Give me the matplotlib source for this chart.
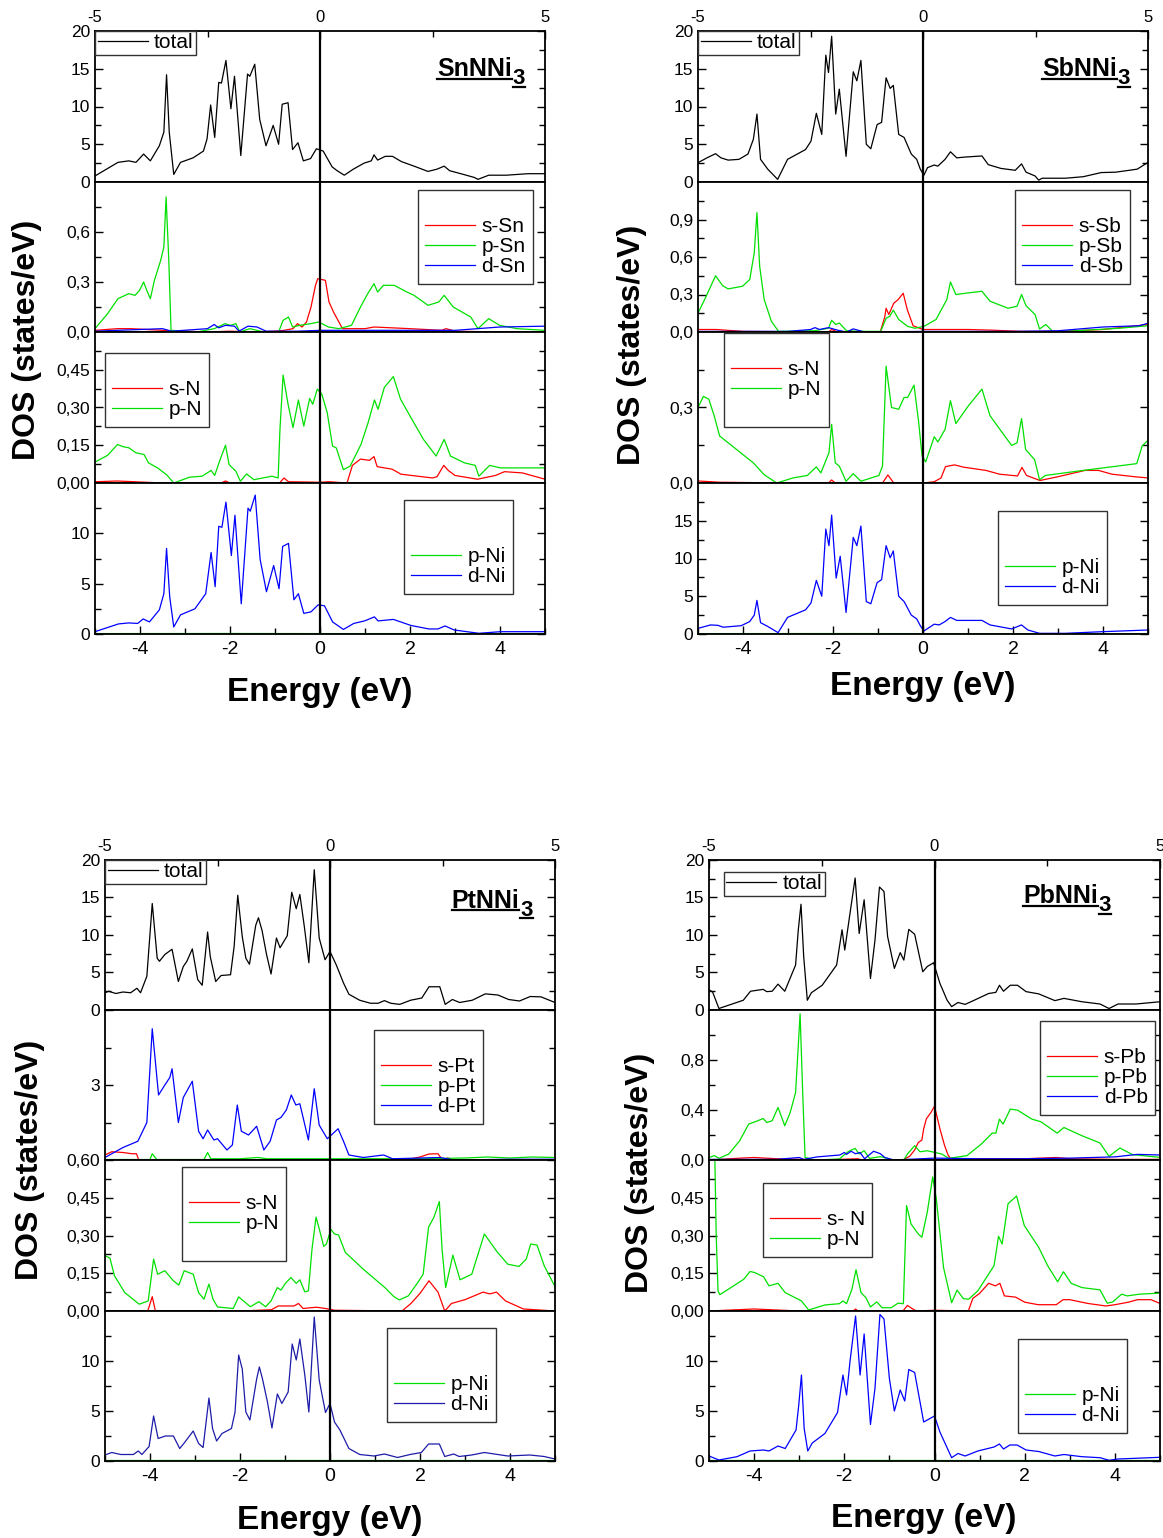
import numpy as np
import matplotlib
matplotlib.use('Agg')
import matplotlib.pyplot as plt
from matplotlib.lines import Line2D

plt.rcParams['font.family'] = ['Liberation Sans', 'DejaVu Sans']
plt.rcParams['axes.unicode_minus'] = False

RED, GREEN, BLUE, NAVY = '#ff0000', '#00e000', '#0000ff', '#1c1ca8'

# %% data: (energy eV, DOS) pairs

# ---- SnNNi3 ----
sn_total = np.array([[-5.0, 0.8], [-4.49, 2.6], [-4.25, 2.8], [-4.09, 2.6], [-3.92, 3.7], [-3.77, 2.8],
                     [-3.57, 4.8], [-3.47, 6.6], [-3.41, 14.2], [-3.35, 6.6], [-3.25, 1.0], [-3.10, 2.6],
                     [-2.82, 3.2], [-2.59, 4.1], [-2.51, 5.7], [-2.43, 10.2], [-2.34, 5.9], [-2.25, 13.2],
                     [-2.19, 13.1], [-2.09, 16.1], [-1.98, 9.7], [-1.90, 14.0], [-1.76, 3.5], [-1.61, 14.3],
                     [-1.56, 14.0], [-1.45, 15.6], [-1.34, 8.3], [-1.20, 4.8], [-1.04, 7.5], [-0.92, 5.0],
                     [-0.84, 10.3], [-0.71, 10.5], [-0.61, 4.3], [-0.49, 5.2], [-0.37, 2.8], [-0.21, 3.1],
                     [-0.08, 4.4], [0.07, 4.1], [0.27, 2.0], [0.38, 1.5], [0.54, 0.9], [0.74, 1.7],
                     [0.98, 2.5], [1.14, 2.8], [1.20, 3.6], [1.28, 2.9], [1.45, 3.4], [1.61, 3.4],
                     [1.81, 2.7], [2.09, 2.1], [2.40, 1.4], [2.60, 1.7], [2.76, 2.1], [2.88, 1.5],
                     [3.19, 1.0], [3.43, 0.6], [3.51, 0.35], [3.75, 0.9], [4.14, 0.9], [4.62, 1.1], [5.0, 1.1]])
sn_s = np.array([[-5.0, 0.01], [-4.5, 0.02], [-4.2, 0.02], [-3.5, 0.01], [-3.0, 0.005], [-2.5, 0.0],
                 [-2.0, 0.005], [-1.5, 0.0], [-1.0, 0.005], [-0.8, 0.01], [-0.6, 0.02], [-0.5, 0.05],
                 [-0.4, 0.03], [-0.3, 0.06], [-0.2, 0.15], [-0.1, 0.28], [-0.05, 0.32], [0.12, 0.31],
                 [0.2, 0.18], [0.3, 0.12], [0.4, 0.07], [0.5, 0.02], [1.0, 0.02], [1.2, 0.03],
                 [2.0, 0.02], [2.7, 0.01], [2.8, 0.02], [3.0, 0.005], [4.0, 0.0], [5.0, 0.0]])
sn_p = np.array([[-5.0, 0.02], [-4.72, 0.11], [-4.49, 0.20], [-4.25, 0.23], [-4.11, 0.22], [-4.01, 0.25],
                 [-3.92, 0.30], [-3.85, 0.25], [-3.77, 0.20], [-3.68, 0.31], [-3.54, 0.43], [-3.47, 0.51],
                 [-3.42, 0.81], [-3.36, 0.43], [-3.31, 0.01], [-2.74, 0.0], [-2.35, 0.02], [-2.11, 0.05],
                 [-1.99, 0.04], [-1.87, 0.05], [-1.78, 0.0], [-1.56, 0.02], [-1.24, 0.0], [-0.92, 0.0],
                 [-0.82, 0.07], [-0.70, 0.09], [-0.61, 0.03], [-0.45, 0.04], [-0.21, 0.05], [-0.03, 0.06],
                 [0.19, 0.03], [0.42, 0.02], [0.70, 0.04], [0.90, 0.15], [1.06, 0.23], [1.20, 0.29],
                 [1.28, 0.24], [1.41, 0.28], [1.65, 0.28], [1.93, 0.24], [2.09, 0.22], [2.40, 0.16],
                 [2.64, 0.18], [2.76, 0.22], [2.96, 0.15], [3.35, 0.09], [3.51, 0.02], [3.75, 0.08],
                 [3.99, 0.04], [4.38, 0.02], [5.0, 0.01]])
sn_d = np.array([[-5.0, 0.005], [-3.5, 0.02], [-3.3, 0.005], [-2.5, 0.02], [-2.35, 0.045], [-2.25, 0.025],
                 [-2.1, 0.04], [-1.9, 0.035], [-1.8, 0.005], [-1.6, 0.035], [-1.4, 0.03], [-1.2, 0.005],
                 [-0.5, 0.005], [0.0, 0.01], [1.0, 0.01], [3.0, 0.01], [4.0, 0.03], [5.0, 0.035]])
sn_pN = np.array([[-5.0, 0.083], [-4.72, 0.11], [-4.5, 0.153], [-4.37, 0.144], [-4.25, 0.14], [-4.09, 0.12],
                  [-3.91, 0.113], [-3.81, 0.08], [-3.61, 0.06], [-3.41, 0.033], [-3.25, 0.0], [-2.90, 0.023],
                  [-2.62, 0.027], [-2.42, 0.05], [-2.34, 0.03], [-2.22, 0.093], [-2.10, 0.15], [-2.02, 0.073],
                  [-1.87, 0.047], [-1.77, 0.007], [-1.63, 0.036], [-1.47, 0.013], [-1.07, 0.027], [-0.93, 0.02],
                  [-0.89, 0.213], [-0.82, 0.429], [-0.71, 0.313], [-0.60, 0.22], [-0.48, 0.33], [-0.36, 0.226],
                  [-0.23, 0.336], [-0.16, 0.313], [-0.06, 0.373], [0.04, 0.353], [0.16, 0.28], [0.28, 0.146],
                  [0.36, 0.14], [0.52, 0.053], [0.67, 0.067], [0.91, 0.153], [1.07, 0.24], [1.21, 0.33],
                  [1.29, 0.293], [1.43, 0.38], [1.63, 0.423], [1.79, 0.333], [2.02, 0.26], [2.30, 0.173],
                  [2.58, 0.107], [2.76, 0.173], [2.90, 0.107], [3.21, 0.08], [3.45, 0.07], [3.53, 0.027],
                  [3.77, 0.07], [4.01, 0.06], [5.0, 0.06]])
sn_sN = np.array([[-5.0, 0.005], [-4.5, 0.008], [-3.5, 0.0], [-2.2, 0.0], [-2.1, 0.008], [-2.0, 0.0],
                  [-0.9, 0.0], [-0.8, 0.02], [-0.7, 0.005], [0.0, 0.003], [0.2, 0.005], [0.6, 0.0],
                  [0.72, 0.07], [0.9, 0.095], [1.1, 0.09], [1.2, 0.105], [1.27, 0.065], [1.6, 0.055],
                  [1.8, 0.035], [2.5, 0.02], [2.6, 0.025], [2.75, 0.07], [2.85, 0.05], [3.0, 0.03],
                  [3.5, 0.015], [3.9, 0.03], [4.1, 0.045], [4.5, 0.04], [5.0, 0.015]])
sn_dNi = np.array([[-5.0, 0.23], [-4.48, 1.0], [-4.25, 1.1], [-4.05, 1.05], [-3.93, 1.5], [-3.79, 1.2],
                   [-3.57, 2.4], [-3.47, 4.0], [-3.41, 8.5], [-3.34, 3.7], [-3.25, 0.7], [-3.10, 1.9],
                   [-2.78, 2.5], [-2.54, 4.0], [-2.42, 8.1], [-2.33, 4.7], [-2.25, 10.7], [-2.18, 10.6],
                   [-2.09, 13.1], [-1.97, 7.8], [-1.89, 11.8], [-1.75, 3.0], [-1.60, 12.5], [-1.55, 12.2],
                   [-1.44, 13.8], [-1.33, 7.4], [-1.19, 4.2], [-1.03, 6.8], [-0.91, 4.5], [-0.83, 8.7],
                   [-0.70, 9.0], [-0.58, 3.4], [-0.48, 4.0], [-0.36, 2.05], [-0.20, 2.2], [-0.04, 2.9],
                   [0.10, 2.8], [0.28, 1.2], [0.52, 0.45], [0.75, 1.05], [0.99, 1.3], [1.21, 1.7],
                   [1.29, 1.3], [1.63, 1.45], [2.02, 0.85], [2.42, 0.5], [2.62, 0.5], [2.78, 0.8],
                   [2.98, 0.4], [3.53, 0.07], [4.01, 0.23], [5.0, 0.23]])
sn_pNi = np.array([[-5.0, 0.04], [-2.0, 0.05], [0.0, 0.04], [2.5, 0.04], [5.0, 0.04]])

# ---- SbNNi3 ----
sb_total = np.array([[-5.0, 2.56], [-4.80, 3.2], [-4.61, 3.75], [-4.49, 3.2], [-4.33, 2.9], [-4.09, 3.0],
                     [-3.89, 3.7], [-3.77, 5.65], [-3.69, 9.0], [-3.61, 3.0], [-3.45, 1.7], [-3.23, 0.35],
                     [-3.01, 3.0], [-2.61, 4.3], [-2.49, 5.4], [-2.37, 9.1], [-2.25, 6.3], [-2.16, 16.8],
                     [-2.10, 14.5], [-2.03, 19.3], [-1.94, 9.0], [-1.86, 12.3], [-1.71, 3.4], [-1.55, 14.6],
                     [-1.47, 13.4], [-1.38, 16.1], [-1.26, 5.0], [-1.16, 4.4], [-1.02, 7.6], [-0.92, 7.9],
                     [-0.82, 13.8], [-0.73, 12.4], [-0.66, 12.8], [-0.54, 6.3], [-0.42, 5.9], [-0.26, 3.7],
                     [-0.14, 3.0], [-0.06, 1.7], [0.02, 0.9], [0.10, 1.9], [0.25, 2.25], [0.33, 2.1],
                     [0.49, 3.0], [0.61, 4.0], [0.75, 3.2], [0.93, 3.3], [1.31, 3.45], [1.45, 2.3],
                     [1.73, 1.8], [2.05, 1.55], [2.19, 2.4], [2.29, 1.3], [2.49, 0.8], [2.57, 0.25],
                     [2.65, 0.5], [3.16, 0.5], [3.56, 0.7], [3.96, 1.25], [4.28, 1.3], [4.76, 1.7], [5.0, 2.6]])
sb_s = np.array([[-5.0, 0.02], [-4.6, 0.02], [-4.0, 0.005], [-2.1, 0.0], [-2.03, 0.02], [-1.9, 0.0],
                 [-0.95, 0.0], [-0.85, 0.12], [-0.82, 0.19], [-0.76, 0.14], [-0.65, 0.23], [-0.55, 0.26],
                 [-0.44, 0.31], [-0.35, 0.18], [-0.22, 0.05], [0.0, 0.02], [0.3, 0.02], [1.0, 0.02],
                 [1.5, 0.015], [2.2, 0.005], [3.0, 0.005], [4.0, 0.02], [5.0, 0.06]])
sb_p = np.array([[-5.0, 0.15], [-4.80, 0.30], [-4.61, 0.45], [-4.45, 0.37], [-4.33, 0.345], [-4.01, 0.366],
                 [-3.85, 0.42], [-3.75, 0.634], [-3.69, 0.955], [-3.63, 0.527], [-3.53, 0.26], [-3.37, 0.086],
                 [-3.21, 0.005], [-2.41, 0.01], [-2.10, 0.03], [-2.03, 0.094], [-1.94, 0.06], [-1.86, 0.072],
                 [-1.70, 0.01], [-1.30, 0.005], [-0.94, 0.005], [-0.82, 0.11], [-0.74, 0.125], [-0.66, 0.175],
                 [-0.54, 0.1], [-0.34, 0.045], [-0.18, 0.03], [0.02, 0.045], [0.29, 0.10], [0.53, 0.26],
                 [0.61, 0.40], [0.73, 0.30], [1.01, 0.313], [1.31, 0.326], [1.49, 0.246], [1.89, 0.19],
                 [2.09, 0.206], [2.19, 0.30], [2.29, 0.21], [2.49, 0.14], [2.59, 0.024], [2.73, 0.06],
                 [2.88, 0.005], [3.16, 0.005], [4.36, 0.03], [5.0, 0.05]])
sb_d = np.array([[-5.0, 0.005], [-3.0, 0.005], [-2.5, 0.02], [-2.4, 0.035], [-2.3, 0.02], [-2.1, 0.035],
                 [-1.9, 0.015], [-1.7, 0.0], [-1.55, 0.025], [-1.3, 0.0], [0.0, 0.005], [2.0, 0.005],
                 [3.0, 0.01], [4.0, 0.04], [4.8, 0.05], [5.0, 0.07]])
sb_pN = np.array([[-5.0, 0.30], [-4.88, 0.344], [-4.76, 0.333], [-4.64, 0.267], [-4.52, 0.187], [-4.24, 0.147],
                  [-3.77, 0.08], [-3.53, 0.033], [-3.25, 0.0], [-2.89, 0.02], [-2.57, 0.03], [-2.37, 0.064],
                  [-2.27, 0.04], [-2.09, 0.12], [-2.03, 0.233], [-1.95, 0.08], [-1.86, 0.067], [-1.71, 0.007],
                  [-1.55, 0.037], [-1.38, 0.007], [-0.98, 0.03], [-0.90, 0.067], [-0.82, 0.464], [-0.70, 0.30],
                  [-0.54, 0.293], [-0.42, 0.34], [-0.34, 0.34], [-0.20, 0.389], [-0.10, 0.247], [-0.02, 0.107],
                  [0.06, 0.084], [0.25, 0.184], [0.33, 0.163], [0.49, 0.213], [0.61, 0.327], [0.73, 0.236],
                  [1.01, 0.307], [1.31, 0.373], [1.49, 0.267], [1.97, 0.149], [2.09, 0.16], [2.19, 0.256],
                  [2.28, 0.133], [2.48, 0.093], [2.59, 0.013], [2.72, 0.03], [3.56, 0.05], [4.75, 0.077],
                  [4.87, 0.147], [5.0, 0.17]])
sb_sN = np.array([[-5.0, 0.008], [-4.5, 0.003], [-3.0, 0.0], [-2.1, 0.0], [-2.03, 0.012], [-1.95, 0.0],
                  [-0.9, 0.0], [-0.78, 0.032], [-0.65, 0.0], [0.0, 0.0], [0.25, 0.005], [0.4, 0.02],
                  [0.5, 0.065], [0.7, 0.072], [0.9, 0.063], [1.4, 0.05], [1.7, 0.035], [2.1, 0.028],
                  [2.2, 0.062], [2.3, 0.03], [2.6, 0.01], [3.0, 0.025], [3.6, 0.05], [3.9, 0.05],
                  [4.2, 0.035], [4.7, 0.025], [5.0, 0.02]])
sb_dNi = np.array([[-5.0, 0.75], [-4.72, 1.2], [-4.56, 1.15], [-4.44, 0.9], [-4.04, 1.1], [-3.85, 1.65],
                   [-3.75, 2.5], [-3.69, 4.45], [-3.61, 1.5], [-3.45, 1.0], [-3.22, 0.18], [-3.01, 2.2],
                   [-2.61, 3.2], [-2.49, 4.1], [-2.37, 7.1], [-2.25, 5.0], [-2.16, 13.9], [-2.09, 11.7],
                   [-2.03, 15.75], [-1.93, 7.4], [-1.84, 10.3], [-1.71, 2.85], [-1.55, 12.8], [-1.47, 11.7],
                   [-1.38, 14.3], [-1.26, 4.3], [-1.16, 4.0], [-1.02, 6.8], [-0.92, 7.2], [-0.82, 11.7],
                   [-0.73, 10.1], [-0.66, 11.0], [-0.54, 5.0], [-0.42, 4.3], [-0.26, 2.5], [-0.14, 2.0],
                   [-0.06, 1.1], [0.02, 0.4], [0.25, 1.3], [0.36, 1.2], [0.49, 1.65], [0.61, 2.2],
                   [0.75, 1.8], [1.31, 1.8], [1.49, 1.2], [1.97, 0.67], [2.19, 1.2], [2.33, 0.53],
                   [2.59, 0.09], [3.16, 0.09], [3.96, 0.3], [5.0, 0.53]])
sb_pNi = np.array([[-5.0, 0.05], [-2.0, 0.06], [0.0, 0.05], [2.5, 0.05], [5.0, 0.05]])

# ---- PtNNi3 ----
pt_total = np.array([[-5.0, 2.3], [-4.92, 2.5], [-4.76, 2.2], [-4.60, 2.4], [-4.43, 2.3], [-4.29, 2.9],
                     [-4.21, 2.3], [-4.07, 4.5], [-3.95, 14.2], [-3.84, 6.9], [-3.79, 6.5], [-3.67, 7.4],
                     [-3.51, 8.1], [-3.37, 3.8], [-3.26, 5.8], [-3.18, 6.5], [-3.06, 8.15], [-2.94, 4.05],
                     [-2.84, 3.3], [-2.72, 10.4], [-2.66, 7.1], [-2.54, 3.8], [-2.42, 4.6], [-2.21, 4.7],
                     [-2.13, 8.5], [-2.05, 15.3], [-1.95, 9.8], [-1.87, 6.9], [-1.79, 6.1], [-1.65, 11.3],
                     [-1.59, 12.3], [-1.51, 10.6], [-1.41, 7.4], [-1.31, 4.8], [-1.19, 9.6], [-1.11, 8.3],
                     [-0.95, 9.9], [-0.85, 15.7], [-0.75, 13.5], [-0.67, 15.4], [-0.57, 11.1], [-0.47, 6.3],
                     [-0.35, 18.7], [-0.24, 9.6], [-0.11, 6.7], [0.0, 7.8], [0.14, 6.0], [0.30, 3.6],
                     [0.42, 2.1], [0.66, 1.3], [0.90, 0.9], [1.07, 0.9], [1.21, 1.25], [1.35, 0.9],
                     [1.55, 0.75], [1.79, 1.3], [2.04, 1.6], [2.20, 3.1], [2.44, 3.1], [2.56, 0.75],
                     [2.72, 1.4], [2.88, 1.0], [3.16, 1.3], [3.45, 2.15], [3.73, 2.0], [3.97, 1.4],
                     [4.21, 1.2], [4.45, 1.8], [4.69, 1.75], [5.0, 1.0]])
pt_s = np.array([[-5.0, 0.2], [-4.85, 0.33], [-4.6, 0.3], [-4.4, 0.25], [-4.3, 0.25], [-4.25, 0.0],
                 [-2.0, 0.0], [0.0, 0.0], [1.8, 0.05], [2.0, 0.12], [2.2, 0.24], [2.4, 0.25],
                 [2.5, 0.0], [2.62, 0.08], [2.7, 0.0], [5.0, 0.0]])
pt_p = np.array([[-5.0, 0.02], [-4.0, 0.02], [-3.95, 0.25], [-3.85, 0.02], [-2.8, 0.02], [-2.72, 0.3],
                 [-2.65, 0.05], [-2.0, 0.05], [-1.6, 0.1], [-1.4, 0.05], [0.0, 0.05], [2.0, 0.05],
                 [3.0, 0.08], [3.5, 0.12], [4.0, 0.08], [4.5, 0.12], [5.0, 0.1]])
pt_d = np.array([[-5.0, 0.1], [-4.60, 0.5], [-4.27, 0.75], [-4.07, 1.5], [-3.95, 5.25], [-3.81, 2.6],
                 [-3.67, 3.0], [-3.56, 3.3], [-3.51, 3.65], [-3.37, 1.5], [-3.26, 2.5], [-3.06, 3.15],
                 [-2.92, 1.15], [-2.82, 0.85], [-2.72, 1.2], [-2.58, 0.8], [-2.50, 0.85], [-2.29, 0.4],
                 [-2.17, 0.6], [-2.06, 2.2], [-1.97, 1.15], [-1.81, 1.0], [-1.63, 1.35], [-1.47, 0.4],
                 [-1.33, 0.75], [-1.19, 1.6], [-1.09, 1.7], [-0.97, 2.0], [-0.86, 2.6], [-0.76, 2.2],
                 [-0.67, 2.25], [-0.48, 0.8], [-0.35, 2.85], [-0.24, 1.4], [-0.06, 0.85], [0.18, 1.25],
                 [0.30, 0.75], [0.42, 0.2], [0.74, 0.1], [1.19, 0.2], [1.39, 0.05], [2.44, 0.1],
                 [2.76, 0.0], [3.97, 0.03], [5.0, 0.03]])
pt_pN = np.array([[-5.0, 0.22], [-4.89, 0.21], [-4.79, 0.14], [-4.56, 0.073], [-4.24, 0.027], [-4.04, 0.04],
                  [-3.92, 0.206], [-3.83, 0.146], [-3.67, 0.16], [-3.48, 0.12], [-3.36, 0.103], [-3.24, 0.16],
                  [-3.04, 0.146], [-2.92, 0.073], [-2.80, 0.047], [-2.69, 0.107], [-2.60, 0.047], [-2.50, 0.016],
                  [-2.15, 0.01], [-2.03, 0.056], [-1.77, 0.017], [-1.58, 0.037], [-1.43, 0.017], [-1.31, 0.04],
                  [-1.17, 0.093], [-1.09, 0.083], [-0.99, 0.11], [-0.87, 0.133], [-0.75, 0.11], [-0.67, 0.124],
                  [-0.56, 0.076], [-0.48, 0.08], [-0.40, 0.246], [-0.31, 0.373], [-0.23, 0.32], [-0.14, 0.257],
                  [-0.08, 0.266], [0.02, 0.324], [0.10, 0.306], [0.19, 0.302], [0.34, 0.233], [0.74, 0.166],
                  [1.22, 0.093], [1.42, 0.057], [1.54, 0.044], [1.74, 0.06], [1.95, 0.113], [2.07, 0.146],
                  [2.19, 0.333], [2.31, 0.373], [2.43, 0.435], [2.49, 0.246], [2.57, 0.093], [2.73, 0.222],
                  [2.89, 0.124], [3.15, 0.146], [3.43, 0.306], [3.71, 0.236], [3.95, 0.186], [4.20, 0.177],
                  [4.36, 0.206], [4.46, 0.266], [4.60, 0.262], [4.76, 0.18], [5.0, 0.097]])
pt_sN = np.array([[-5.0, 0.0], [-4.05, 0.0], [-3.95, 0.057], [-3.88, 0.0], [-2.0, 0.0], [-1.3, 0.005],
                  [-1.15, 0.02], [-0.8, 0.02], [-0.7, 0.03], [-0.6, 0.01], [-0.3, 0.015], [-0.1, 0.01],
                  [0.1, 0.003], [1.6, 0.0], [1.8, 0.03], [2.0, 0.07], [2.2, 0.12], [2.4, 0.075],
                  [2.55, 0.0], [2.7, 0.03], [3.0, 0.045], [3.4, 0.075], [3.55, 0.068], [3.7, 0.075],
                  [3.9, 0.04], [4.3, 0.008], [5.0, 0.0]])
pt_dNi = np.array([[-5.0, 0.6], [-4.85, 0.85], [-4.65, 0.65], [-4.37, 0.65], [-4.26, 1.0], [-4.18, 0.65],
                   [-4.02, 1.45], [-3.92, 4.5], [-3.82, 2.25], [-3.66, 2.5], [-3.48, 2.5], [-3.34, 1.25],
                   [-3.24, 1.8], [-3.04, 3.0], [-2.92, 1.75], [-2.82, 1.35], [-2.69, 6.3], [-2.61, 3.25],
                   [-2.52, 2.0], [-2.40, 2.75], [-2.19, 3.25], [-2.11, 4.9], [-2.03, 10.6], [-1.95, 9.2],
                   [-1.87, 4.9], [-1.78, 4.1], [-1.63, 8.2], [-1.57, 9.4], [-1.50, 8.2], [-1.39, 5.9],
                   [-1.29, 3.3], [-1.17, 6.7], [-1.07, 5.75], [-0.93, 6.9], [-0.84, 11.7], [-0.75, 10.1],
                   [-0.67, 12.2], [-0.56, 8.6], [-0.47, 4.9], [-0.35, 14.4], [-0.24, 8.1], [-0.10, 4.85],
                   [0.0, 5.75], [0.10, 3.9], [0.22, 3.1], [0.42, 1.25], [0.66, 0.65], [0.98, 0.5],
                   [1.21, 0.7], [1.50, 0.35], [1.78, 0.65], [2.03, 0.85], [2.19, 1.7], [2.43, 1.7],
                   [2.55, 0.45], [2.75, 0.7], [2.87, 0.45], [3.15, 0.6], [3.43, 0.85], [3.95, 0.5],
                   [4.44, 0.6], [4.76, 0.45], [5.0, 0.2]])
pt_pNi = np.array([[-5.0, 0.05], [-2.0, 0.06], [0.0, 0.05], [2.5, 0.05], [5.0, 0.05]])

# ---- PbNNi3 ----
pb_total = np.array([[-5.0, 2.7], [-4.92, 2.4], [-4.78, 0.2], [-4.56, 0.65], [-4.24, 1.3], [-4.08, 2.5],
                     [-3.80, 2.75], [-3.72, 2.45], [-3.60, 2.5], [-3.47, 3.45], [-3.32, 2.5], [-3.08, 6.0],
                     [-3.02, 10.7], [-2.96, 14.1], [-2.90, 7.1], [-2.82, 1.3], [-2.73, 2.3], [-2.49, 3.3],
                     [-2.17, 6.0], [-2.05, 10.7], [-1.99, 8.0], [-1.89, 12.2], [-1.76, 17.6], [-1.67, 10.2],
                     [-1.56, 14.7], [-1.42, 4.2], [-1.32, 9.3], [-1.22, 16.4], [-1.12, 15.8], [-1.04, 9.8],
                     [-0.89, 5.55], [-0.76, 7.65], [-0.68, 6.65], [-0.57, 10.75], [-0.44, 10.1], [-0.26, 5.1],
                     [-0.16, 5.8], [-0.02, 6.3], [0.12, 3.55], [0.28, 1.3], [0.38, 0.45], [0.52, 1.0],
                     [0.68, 0.75], [0.88, 1.3], [1.20, 2.2], [1.36, 2.35], [1.44, 3.3], [1.53, 2.5],
                     [1.68, 3.3], [1.84, 3.3], [2.03, 2.45], [2.31, 2.15], [2.67, 1.25], [2.87, 1.55],
                     [3.27, 1.1], [3.67, 0.8], [3.87, 0.2], [4.07, 0.8], [4.47, 0.8], [5.0, 1.1]])
pb_s = np.array([[-5.0, 0.0], [-4.3, 0.015], [-4.0, 0.02], [-3.5, 0.01], [-3.0, 0.005], [-2.5, 0.0],
                 [-1.7, 0.01], [-1.6, 0.0], [-0.7, 0.0], [-0.55, 0.03], [-0.44, 0.08], [-0.36, 0.14],
                 [-0.28, 0.16], [-0.24, 0.25], [-0.18, 0.33], [-0.08, 0.38], [0.0, 0.43], [0.12, 0.25],
                 [0.22, 0.12], [0.3, 0.04], [0.38, 0.0], [1.0, 0.01], [2.0, 0.01], [2.7, 0.02],
                 [3.0, 0.01], [4.0, 0.005], [5.0, 0.005]])
pb_p = np.array([[-5.0, 0.02], [-4.88, 0.035], [-4.78, 0.013], [-4.56, 0.048], [-4.32, 0.154], [-4.12, 0.287],
                 [-3.92, 0.314], [-3.80, 0.332], [-3.72, 0.30], [-3.60, 0.314], [-3.47, 0.42], [-3.32, 0.274],
                 [-3.20, 0.38], [-3.08, 0.54], [-2.98, 1.17], [-2.92, 0.513], [-2.87, 0.021], [-2.65, 0.0],
                 [-2.11, 0.008], [-1.92, 0.066], [-1.76, 0.093], [-1.67, 0.048], [-1.56, 0.074], [-1.44, 0.013],
                 [-1.20, 0.027], [-0.92, 0.0], [-0.68, 0.0], [-0.60, 0.048], [-0.44, 0.114], [-0.32, 0.066],
                 [-0.16, 0.074], [0.0, 0.061], [0.16, 0.048], [0.32, 0.013], [0.72, 0.035], [1.04, 0.128],
                 [1.28, 0.215], [1.36, 0.215], [1.44, 0.327], [1.52, 0.287], [1.68, 0.407], [1.84, 0.399],
                 [2.16, 0.327], [2.36, 0.306], [2.72, 0.215], [2.87, 0.26], [3.27, 0.194], [3.67, 0.136],
                 [3.87, 0.029], [4.11, 0.096], [4.39, 0.043], [5.0, 0.021]])
pb_d = np.array([[-5.0, 0.005], [-3.5, 0.005], [-3.0, 0.02], [-2.9, 0.005], [-2.6, 0.025], [-2.1, 0.04],
                 [-2.0, 0.06], [-1.95, 0.045], [-1.85, 0.07], [-1.75, 0.05], [-1.65, 0.06], [-1.55, 0.01],
                 [-1.35, 0.07], [-1.2, 0.05], [-1.1, 0.02], [-0.9, 0.0], [0.0, 0.015], [1.0, 0.01],
                 [2.0, 0.01], [3.0, 0.015], [4.0, 0.025], [4.5, 0.045], [5.0, 0.04]])
pb_pN = np.array([[-5.0, 0.8], [-4.88, 0.7], [-4.84, 0.3], [-4.80, 0.08], [-4.76, 0.065], [-4.55, 0.089],
                  [-4.23, 0.126], [-4.09, 0.157], [-3.99, 0.153], [-3.79, 0.136], [-3.67, 0.10], [-3.47, 0.11],
                  [-3.31, 0.073], [-2.95, 0.04], [-2.79, 0.004], [-2.43, 0.024], [-2.11, 0.029], [-2.03, 0.04],
                  [-1.95, 0.029], [-1.83, 0.087], [-1.74, 0.164], [-1.63, 0.073], [-1.52, 0.053], [-1.42, 0.016],
                  [-1.28, 0.036], [-1.16, 0.013], [-0.96, 0.013], [-0.81, 0.031], [-0.69, 0.029], [-0.62, 0.419],
                  [-0.52, 0.346], [-0.36, 0.306], [-0.28, 0.293], [-0.16, 0.393], [-0.04, 0.533], [0.04, 0.446],
                  [0.20, 0.173], [0.38, 0.033], [0.50, 0.083], [0.64, 0.049], [0.76, 0.047], [0.96, 0.08],
                  [1.32, 0.18], [1.42, 0.297], [1.50, 0.266], [1.63, 0.426], [1.82, 0.457], [1.99, 0.34],
                  [2.31, 0.253], [2.51, 0.18], [2.73, 0.116], [2.86, 0.156], [3.03, 0.11], [3.27, 0.093],
                  [3.67, 0.084], [3.83, 0.031], [3.95, 0.036], [4.15, 0.067], [4.27, 0.06], [4.55, 0.067],
                  [5.0, 0.071]])
pb_sN = np.array([[-5.0, 0.0], [-4.0, 0.008], [-3.0, 0.0], [-1.8, 0.0], [-1.75, 0.008], [-1.7, 0.0],
                  [-0.7, 0.0], [-0.6, 0.022], [-0.5, 0.01], [-0.4, 0.0], [0.0, 0.003], [0.75, 0.0],
                  [0.85, 0.05], [1.0, 0.07], [1.2, 0.11], [1.35, 0.1], [1.45, 0.11], [1.55, 0.06],
                  [1.8, 0.055], [2.0, 0.035], [2.3, 0.025], [2.7, 0.025], [2.85, 0.045], [3.0, 0.045],
                  [3.4, 0.03], [3.8, 0.02], [4.0, 0.025], [4.3, 0.035], [4.5, 0.045], [4.8, 0.045], [5.0, 0.03]])
pb_dNi = np.array([[-5.0, 0.5], [-4.78, 0.1], [-4.38, 0.43], [-4.09, 1.0], [-3.79, 1.1], [-3.67, 1.0],
                   [-3.47, 1.5], [-3.31, 1.25], [-3.07, 3.1], [-3.01, 5.6], [-2.95, 8.6], [-2.89, 3.25],
                   [-2.81, 1.0], [-2.71, 1.8], [-2.43, 2.75], [-2.15, 4.85], [-2.03, 8.6], [-1.95, 6.6],
                   [-1.87, 10.1], [-1.75, 14.5], [-1.65, 8.6], [-1.56, 12.7], [-1.42, 3.65], [-1.32, 7.25],
                   [-1.21, 14.65], [-1.12, 14.2], [-1.00, 8.25], [-0.89, 5.0], [-0.76, 7.1], [-0.66, 6.0],
                   [-0.57, 9.15], [-0.44, 8.85], [-0.24, 3.9], [0.0, 4.5], [0.12, 2.9], [0.38, 0.33],
                   [0.52, 0.75], [0.68, 0.5], [0.96, 1.0], [1.32, 1.4], [1.44, 1.7], [1.53, 1.2],
                   [1.67, 1.6], [1.83, 1.6], [2.03, 1.1], [2.31, 0.95], [2.67, 0.5], [2.87, 0.65],
                   [3.27, 0.43], [3.67, 0.33], [3.87, 0.07], [4.07, 0.2], [5.0, 0.37]])
pb_pNi = np.array([[-5.0, 0.05], [-2.0, 0.06], [0.0, 0.05], [2.5, 0.05], [5.0, 0.05]])

# %% figure
W, H = 1163, 1538
fig = plt.figure(figsize=(W / 100, H / 100), dpi=100)


def make_panel(l, r, edges):
    axs = []
    for i in range(4):
        t, b = edges[i], edges[i + 1]
        ax = fig.add_axes([l / W, 1 - b / H, (r - l) / W, (b - t) / H])
        ax.set_xlim(-5, 5)
        ax.axvline(0, color='k', lw=1.6, zorder=3)
        for s in ax.spines.values():
            s.set_linewidth(1.3)
        ax.tick_params(which='both', direction='in', left=True, right=True, top=False,
                       bottom=False, labelbottom=False, labelsize=12.5, width=1.0)
        ax.tick_params(which='major', length=6)
        ax.tick_params(which='minor', length=4)
        axs.append(ax)
    axs[0].tick_params(axis='x', which='both', top=True, labeltop=True, pad=4, labelsize=12)
    axs[0].set_xticks([-5, 0, 5], ['-5', '0', '5'])
    axs[0].set_xticks([-2.5, 2.5], minor=True)
    axs[3].tick_params(axis='x', which='both', bottom=True, labelbottom=True, labelsize=14, pad=5)
    axs[3].set_xticks([-4, -2, 0, 2, 4], ['-4', '-2', '0', '2', '4'])
    axs[3].set_xticks([-5, -3, -1, 1, 3, 5], minor=True)
    return axs


def yaxis(ax, top, major, labels, minor):
    ax.set_ylim(0, top)
    ax.set_yticks(major, labels)
    ax.set_yticks(minor, minor=True)


def curve(ax, data, color):
    return ax.plot(data[:, 0], data[:, 1], color=color, lw=0.9)[0]


def legend(ax, lines, labels, loc, anchor, blank_top=0, blank_bot=0, pad=0.35):
    blank = Line2D([], [], color='none')
    h = [blank] * blank_top + lines + [blank] * blank_bot
    lab = [' '] * blank_top + labels + [' '] * blank_bot
    lg = ax.legend(h, lab, loc=loc, bbox_to_anchor=anchor, borderaxespad=0, fontsize=15,
                   handlelength=2.4, handletextpad=0.3, labelspacing=0.05, borderpad=pad,
                   fancybox=False, framealpha=1, edgecolor='#333333')
    lg.get_frame().set_linewidth(1.0)


titles = []


def formula(ax, x, y, name):
    t = ax.text(x, y, name, transform=ax.transAxes, fontsize=18, fontweight='bold',
                ha='left', va='baseline')
    titles.append((ax, t, x, y))


tot_major = [0, 5, 10, 15, 20]
tot_labels = ['0', '5', '10', '15', '20']
tot_minor = [2.5, 7.5, 12.5, 17.5]

# ---- panel 1: SnNNi3 ----
a = make_panel(95, 545, [31, 182, 332, 483, 634])
yaxis(a[0], 20, tot_major, tot_labels, tot_minor)
lt = curve(a[0], sn_total, 'k')
legend(a[0], [lt], ['total'], 'upper left', (0, 1), pad=0.12)
formula(a[0], 0.76, 0.70, 'SnNNi')
yaxis(a[1], 0.9, [0, 0.3, 0.6], ['0,0', '0,3', '0,6'], [0.15, 0.45, 0.75])
l1 = curve(a[1], sn_s, RED)
l2 = curve(a[1], sn_p, GREEN)
l3 = curve(a[1], sn_d, BLUE)
legend(a[1], [l1, l2, l3], ['s-Sn', 'p-Sn', 'd-Sn'], 'upper right', (0.973, 0.947), blank_top=1)
yaxis(a[2], 0.6, [0, 0.15, 0.30, 0.45], ['0,00', '0,15', '0,30', '0,45'],
      [0.075, 0.225, 0.375, 0.525])
l1 = curve(a[2], sn_sN, RED)
l2 = curve(a[2], sn_pN, GREEN)
legend(a[2], [l1, l2], ['s-N', 'p-N'], 'upper left', (0.022, 0.861), blank_top=1)
yaxis(a[3], 15, [0, 5, 10], ['0', '5', '10'], [2.5, 7.5, 12.5])
l1 = curve(a[3], sn_pNi, GREEN)
l2 = curve(a[3], sn_dNi, BLUE)
legend(a[3], [l1, l2], ['p-Ni', 'd-Ni'], 'upper right', (0.929, 0.887), blank_top=2)

# ---- panel 2: SbNNi3 ----
a = make_panel(698, 1148, [31, 182, 332, 483, 634])
yaxis(a[0], 20, tot_major, tot_labels, tot_minor)
lt = curve(a[0], sb_total, 'k')
legend(a[0], [lt], ['total'], 'upper left', (0, 1), pad=0.12)
formula(a[0], 0.764, 0.70, 'SbNNi')
yaxis(a[1], 1.2, [0, 0.3, 0.6, 0.9], ['0,0', '0,3', '0,6', '0,9'], [0.15, 0.45, 0.75, 1.05])
l1 = curve(a[1], sb_s, RED)
l2 = curve(a[1], sb_p, GREEN)
l3 = curve(a[1], sb_d, BLUE)
legend(a[1], [l1, l2, l3], ['s-Sb', 'p-Sb', 'd-Sb'], 'upper right', (0.96, 0.947), blank_top=1)
yaxis(a[2], 0.6, [0, 0.3], ['0,0', '0,3'], [0.15, 0.45])
l1 = curve(a[2], sb_sN, RED)
l2 = curve(a[2], sb_pN, GREEN)
legend(a[2], [l1, l2], ['s-N', 'p-N'], 'upper left', (0.058, 0.993), blank_top=1, blank_bot=1)
yaxis(a[3], 20, [0, 5, 10, 15], ['0', '5', '10', '15'], [2.5, 7.5, 12.5, 17.5])
l1 = curve(a[3], sb_pNi, GREEN)
l2 = curve(a[3], sb_dNi, BLUE)
legend(a[3], [l1, l2], ['p-Ni', 'd-Ni'], 'upper right', (0.909, 0.815), blank_top=2)

# ---- panel 3: PtNNi3 ----
a = make_panel(105, 555, [860, 1010, 1160, 1311, 1461])
yaxis(a[0], 20, tot_major, tot_labels, tot_minor)
lt = curve(a[0], pt_total, 'k')
legend(a[0], [lt], ['total'], 'upper left', (0, 1), pad=0.12)
formula(a[0], 0.77, 0.68, 'PtNNi')
yaxis(a[1], 6, [0, 3, 6], ['', '3', ''], [1.5, 4.5])
l1 = curve(a[1], pt_s, RED)
l2 = curve(a[1], pt_p, GREEN)
l3 = curve(a[1], pt_d, BLUE)
legend(a[1], [l1, l2, l3], ['s-Pt', 'p-Pt', 'd-Pt'], 'upper right', (0.84, 0.867), blank_top=1)
yaxis(a[2], 0.6, [0, 0.15, 0.30, 0.45, 0.60], ['0,00', '0,15', '0,30', '0,45', '0,60'],
      [0.075, 0.225, 0.375, 0.525])
l1 = curve(a[2], pt_sN, RED)
l2 = curve(a[2], pt_pN, GREEN)
legend(a[2], [l1, l2], ['s-N', 'p-N'], 'upper left', (0.171, 0.954), blank_top=1, blank_bot=1)
yaxis(a[3], 15, [0, 5, 10], ['0', '5', '10'], [2.5, 7.5, 12.5])
l1 = curve(a[3], pt_pNi, GREEN)
l2 = curve(a[3], pt_dNi, NAVY)
legend(a[3], [l1, l2], ['p-Ni', 'd-Ni'], 'upper right', (0.869, 0.887), blank_top=2)

# ---- panel 4: PbNNi3 ----
a = make_panel(709, 1160, [860, 1010, 1160, 1311, 1461])
yaxis(a[0], 20, tot_major, tot_labels, tot_minor)
lt = curve(a[0], pb_total, 'k')
legend(a[0], [lt], ['total'], 'upper left', (0.033, 0.92), pad=0.12)
formula(a[0], 0.696, 0.71, 'PbNNi')
yaxis(a[1], 1.2, [0, 0.4, 0.8], ['0,0', '0,4', '0,8'], [0.2, 0.6, 1.0])
l1 = curve(a[1], pb_s, RED)
l2 = curve(a[1], pb_p, GREEN)
l3 = curve(a[1], pb_d, BLUE)
legend(a[1], [l1, l2, l3], ['s-Pb', 'p-Pb', 'd-Pb'], 'upper right', (0.989, 0.927), blank_top=1)
yaxis(a[2], 0.6, [0, 0.15, 0.30, 0.45], ['0,00', '0,15', '0,30', '0,45'],
      [0.075, 0.225, 0.375, 0.525])
l1 = curve(a[2], pb_sN, RED)
l2 = curve(a[2], pb_pN, GREEN)
legend(a[2], [l1, l2], ['s- N', 'p-N'], 'upper left', (0.12, 0.848), blank_top=1)
yaxis(a[3], 15, [0, 5, 10], ['0', '5', '10'], [2.5, 7.5, 12.5])
l1 = curve(a[3], pb_pNi, GREEN)
l2 = curve(a[3], pb_dNi, BLUE)
legend(a[3], [l1, l2], ['p-Ni', 'd-Ni'], 'upper right', (0.927, 0.813), blank_top=2)

# axis titles
for x, y in [(27, 340), (632, 345), (30, 1160), (640, 1173)]:
    fig.text(x / W, 1 - y / H, 'DOS (states/eV)', rotation=90, fontsize=23,
             fontweight='bold', ha='center', va='center')
for x, y in [(320, 692), (923, 687), (330, 1520), (924, 1518)]:
    fig.text(x / W, 1 - y / H, 'Energy (eV)', fontsize=24, fontweight='bold',
             ha='center', va='center')

# underlined formula names with subscript 3
fig.canvas.draw()
rend = fig.canvas.get_renderer()
for ax, t, x, y in titles:
    bb = t.get_window_extent(rend)
    xb, yb = ax.transAxes.transform((x, y))
    sub = fig.text((bb.x1 + 1) / W, (yb - 8) / H, '3', fontsize=16, fontweight='bold',
                   ha='left', va='baseline')
    sb = sub.get_window_extent(rend)
    fig.add_artist(Line2D([bb.x0 / W, bb.x1 / W], [(yb - 2.5) / H] * 2, color='k', lw=1.6))
    fig.add_artist(Line2D([sb.x0 / W, sb.x1 / W], [(yb - 10.5) / H] * 2, color='k', lw=1.6))

fig.savefig('out.png', dpi=100)
